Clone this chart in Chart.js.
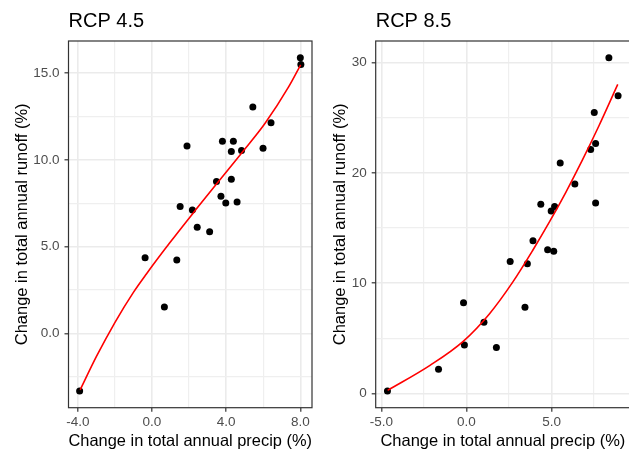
<!DOCTYPE html>
<html>
<head>
<meta charset="utf-8">
<script src="https://cdn.jsdelivr.net/npm/chart.js@4.4.1/dist/chart.umd.min.js"></script>
<style>
  html, body { margin: 0; padding: 0; background: #fff; overflow: hidden; width: 629px; height: 450px; }
  canvas { position: absolute; top: 0; }
  #left { left: 0; }
  #right { left: 318px; }
</style>
</head>
<body>
<canvas id="left" width="316" height="450"></canvas>
<canvas id="right" width="316" height="450"></canvas>
<script>
// RCP 4.5 – observed points
const RCP45_PRECIP = [8.00, 8.03, 5.44, 6.42, 1.89, 3.80, 4.39, 4.28, 4.83, 5.99, 3.48, 4.28,
    3.72, 3.98, 4.59, 1.52, 2.18, 2.44, 3.11, -0.37, 1.34, 0.67, -3.90];
const RCP45_RUNOFF = [15.90, 15.51, 13.06, 12.14, 10.81, 11.08, 11.08, 10.49, 10.55, 10.68, 8.76, 8.89,
    7.91, 7.52, 7.58, 7.32, 7.12, 6.13, 5.87, 4.37, 4.23, 1.52, -3.32];
// RCP 4.5 – fitted curve (red)
const RCP45_FIT_PRECIP = [-3.87, -3.0, -2.0, -1.0, -0.30, 0.95, 2.37, 3.62, 4.87, 6.12, 7.36, 8.02];
const RCP45_FIT_RUNOFF = [-3.25, -1.34, 0.63, 2.37, 3.43, 5.21, 7.14, 8.80, 10.45, 12.15, 14.20, 15.49];

// RCP 8.5 – observed points
const RCP85_PRECIP = [8.37, 8.91, 7.51, 7.59, 7.30, 5.51, 6.37, 4.37, 7.59, 5.18, 4.98, 3.91,
    4.77, 5.13, 2.57, 3.58, -0.17, 3.44, 1.03, -0.12, 1.76, -1.64, -4.64];
const RCP85_RUNOFF = [30.45, 27.00, 25.47, 22.66, 22.12, 20.89, 19.00, 17.15, 17.26, 16.96, 16.54, 13.84,
    13.03, 12.90, 11.97, 11.76, 8.22, 7.81, 6.44, 4.38, 4.17, 2.19, 0.21];
// RCP 8.5 – fitted curve (red)
const RCP85_FIT_PRECIP = [-4.63, -2.14, -0.19, 1.36, 2.72, 3.89, 4.86, 5.84, 6.81, 7.78, 8.89];
const RCP85_FIT_RUNOFF = [0.27, 2.54, 4.72, 7.23, 10.09, 12.96, 15.50, 18.24, 21.15, 24.25, 28.02];

// axis ticks (labelled) and minor grid positions
const RCP45_X_TICKS = [-4, 0, 4, 8];
const RCP45_X_MINOR = [-2, 2, 6];
const RCP45_Y_TICKS = [0, 5, 10, 15];
const RCP45_Y_MINOR = [-2.5, 2.5, 7.5, 12.5];
const RCP85_X_TICKS = [-5, 0, 5];
const RCP85_X_MINOR = [-2.5, 2.5, 7.5];
const RCP85_Y_TICKS = [0, 10, 20, 30];
const RCP85_Y_MINOR = [5, 15, 25];

const FONT = "'Liberation Sans', Arial, sans-serif";

function toPoints(xs, ys) {
    return xs.map((x, i) => ({ x: x, y: ys[i] }));
}

// ggplot-like panel border drawn over the plot
const panelBorder = {
    id: 'panelBorder',
    afterDraw(chart) {
        const a = chart.chartArea;
        const ctx = chart.ctx;
        ctx.save();
        ctx.strokeStyle = '#333333';
        ctx.lineWidth = 1.2;
        ctx.strokeRect(a.left, a.top, a.right - a.left, a.bottom - a.top);
        ctx.restore();
    }
};

function axis(opts) {
    const major = opts.major, minor = opts.minor;
    return {
        type: 'linear',
        position: opts.position,
        min: opts.min,
        max: opts.max,
        afterBuildTicks: (scale) => {
            scale.ticks = major.concat(minor).sort((a, b) => a - b).map(v => ({ value: v }));
        },
        afterFit: (scale) => {
            if (opts.position === 'left') scale.width = opts.size;
            else scale.height = opts.size;
        },
        border: { display: false },
        grid: {
            color: (c) => major.includes(c.tick.value) ? '#EBEBEB' : '#EFEFEF',
            lineWidth: (c) => major.includes(c.tick.value) ? 1.6 : 1.2,
            tickColor: (c) => major.includes(c.tick.value) ? '#333333' : 'rgba(0,0,0,0)',
            tickWidth: 1.2,
            tickLength: 4
        },
        ticks: {
            autoSkip: false,
            maxRotation: 0,
            padding: opts.position === 'left' ? 5 : 2,
            color: '#4D4D4D',
            font: { family: FONT, size: 13.5 },
            callback: (v) => major.includes(v) ? opts.fmt(v) : ''
        },
        title: {
            display: true,
            text: opts.title,
            color: '#000000',
            font: { family: FONT, size: 16.5, lineHeight: 1 },
            padding: opts.position === 'left' ? { top: 14, bottom: 0 } : { top: 0, bottom: 0 }
        }
    };
}

function makePanel(id, title, px, py, fx, fy, xr, yr, yWidth) {
    return new Chart(document.getElementById(id), {
        type: 'scatter',
        data: {
            datasets: [{
                type: 'line',
                data: toPoints(fx, fy),
                borderColor: '#FF0000',
                borderWidth: 1.6,
                pointRadius: 0,
                cubicInterpolationMode: 'monotone',
                fill: false,
                order: 0
            }, {
                data: toPoints(px, py),
                backgroundColor: '#000000',
                borderColor: '#000000',
                pointRadius: 3.5,
                borderWidth: 0,
                order: 1
            }]
        },
        options: {
            responsive: false,
            animation: false,
            events: [],
            layout: { padding: { left: 0, right: 3, top: 0, bottom: 0 } },
            plugins: {
                legend: { display: false },
                tooltip: { enabled: false },
                title: {
                    display: true,
                    text: title,
                    align: 'start',
                    fullSize: false,
                    color: '#000000',
                    font: { family: FONT, size: 20, weight: 'normal', lineHeight: 1.2 },
                    padding: { top: 9, bottom: 8 }
                }
            },
            scales: {
                x: axis({ position: 'bottom', min: xr.min, max: xr.max, major: xr.major, minor: xr.minor,
                    fmt: xr.fmt, size: 42.3, title: 'Change in total annual precip (%)' }),
                y: axis({ position: 'left', min: yr.min, max: yr.max, major: yr.major, minor: yr.minor,
                    fmt: yr.fmt, size: yWidth, title: 'Change in total annual runoff (%)' })
            }
        },
        plugins: [panelBorder]
    });
}

makePanel('left', 'RCP 4.5', RCP45_PRECIP, RCP45_RUNOFF, RCP45_FIT_PRECIP, RCP45_FIT_RUNOFF,
    { min: -4.5, max: 8.63, major: RCP45_X_TICKS, minor: RCP45_X_MINOR, fmt: v => v.toFixed(1) },
    { min: -4.28, max: 16.86, major: RCP45_Y_TICKS, minor: RCP45_Y_MINOR, fmt: v => v.toFixed(1) },
    68.5);

makePanel('right', 'RCP 8.5', RCP85_PRECIP, RCP85_RUNOFF, RCP85_FIT_PRECIP, RCP85_FIT_RUNOFF,
    { min: -5.33, max: 9.61, major: RCP85_X_TICKS, minor: RCP85_X_MINOR, fmt: v => v.toFixed(1) },
    { min: -1.30, max: 31.96, major: RCP85_Y_TICKS, minor: RCP85_Y_MINOR, fmt: v => String(v) },
    57.7);
</script>
</body>
</html>
